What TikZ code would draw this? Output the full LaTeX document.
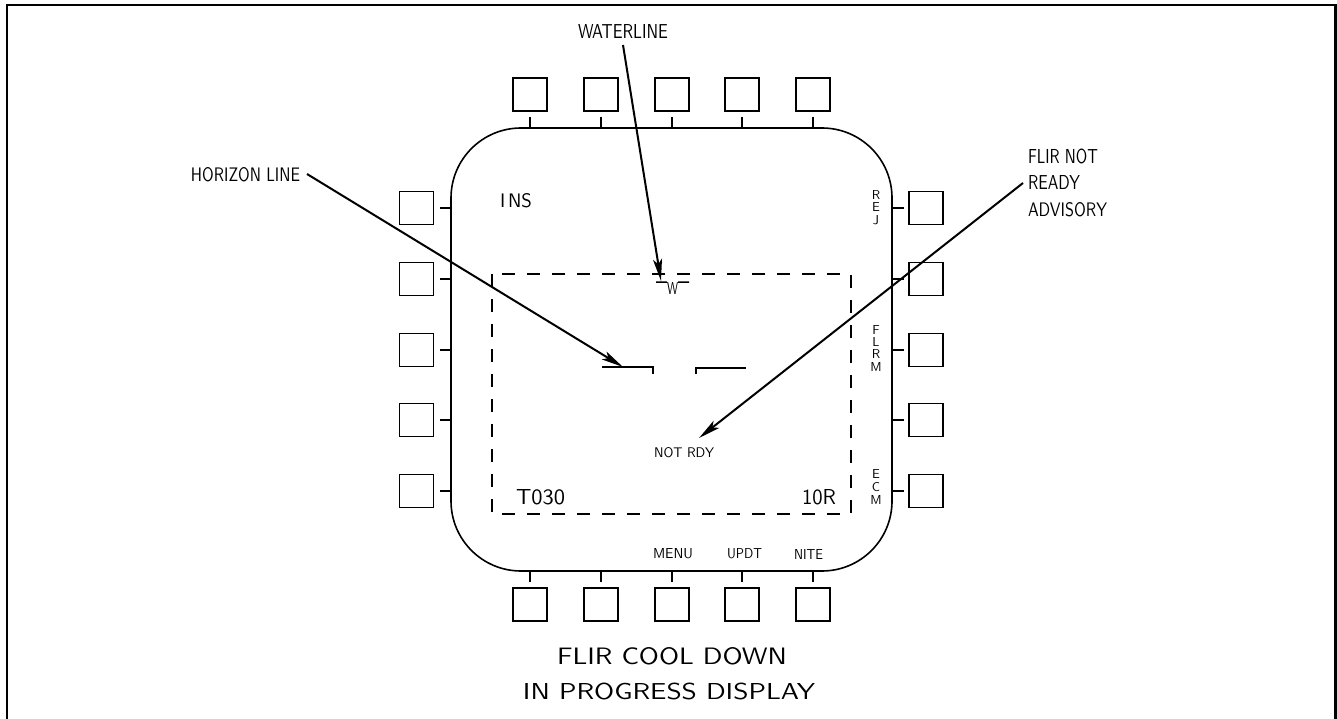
\documentclass[tikz,border=0pt]{standalone}
\usepackage{graphicx}
\usetikzlibrary{arrows.meta}
\newcommand{\lbl}[3]{\resizebox{#1pt}{#2pt}{\sffamily #3}}
\newcommand{\vlt}[1]{\resizebox{!}{9pt}{\sffamily #1}}
\begin{document}
\begin{tikzpicture}[x=1pt,y=-1pt,line width=1.5pt,
  btn/.style={draw,minimum width=34pt,minimum height=33pt,inner sep=0pt,line width=1.6pt},
  txt/.style={inner sep=0pt,outer sep=0pt},
  ptr/.style={line width=2pt,-{Stealth[length=22pt,width=9pt,inset=5pt]}},
  dashbox/.style={line width=1.5pt,dash pattern=on 13pt off 12pt}]
\useasboundingbox (0,0) rectangle (1337,719);
% frame
\draw[line width=2.6pt] (7,719) -- (7,5) -- (1335.5,5) -- (1335.5,719);
% display outline
\draw[line width=1.6pt,rounded corners=70pt] (451,128) rectangle (892,571);
% dashed field
\draw[dashbox] (492,274) rectangle (851,514);
% top and bottom buttons
\foreach \i/\x in {1/530,2/601,3/672,4/742,5/813}{
  \node[btn] (t\i) at (\x,94.5) {};
  \draw (t\i.south) ++(0,5) -- (t\i.south |- 0,128);
  \node[btn] (b\i) at (\x,604.5) {};
  \draw (b\i.north) ++(0,-5) -- (b\i.north |- 0,571);
}
% left and right buttons
\foreach \i/\y in {1/208,2/279,3/350,4/420,5/491}{
  \node[btn] (l\i) at (416.5,\y) {};
  \draw (l\i.east) ++(6,0) -- (l\i.east -| 451,0);
  \node[btn] (r\i) at (926,\y) {};
  \draw (r\i.west) ++(-4,0) -- (r\i.west -| 892,0);
}
% waterline symbol
\node[txt] (w) at (672.5,288) {\lbl{11}{12}{W}};
\coordinate (wl1) at (656,282);
\coordinate (wl2) at (689,282);
\draw (wl1) -- (w.north west);
\draw (w.north east) -- (wl2);
% horizon line symbol
\coordinate (h1) at (602,367);
\coordinate (h2) at (653,374);
\coordinate (h3) at (696,374);
\coordinate (h4) at (746,368);
\draw (h1) -- (h1 -| h2) -- (h2);
\draw (h3) -- (h3 |- h4) -- (h4);
% labels
\node[txt] (wl) at (623,32) {\lbl{90}{14}{WATERLINE}};
\node[txt] (hl) at (245.5,175) {\lbl{109}{14}{HORIZON LINE}};
\node[txt,anchor=west] (fl1) at (1028,156.5) {\lbl{70}{14.5}{FLIR NOT}};
\node[txt,anchor=west] (fl2) at (1028,183) {\lbl{52}{14}{READY}};
\node[txt,anchor=west] (fl3) at (1028,210) {\lbl{79}{14}{ADVISORY}};
\node[txt] (ins) at (516,201) {\lbl{32}{14}{I\kern0.15em NS}};
\node[txt] (nr) at (684,453) {\lbl{60}{10}{NOT RDY}};
\node[txt] (menu) at (673,554) {\lbl{40}{10}{MENU}};
\node[txt] (updt) at (744.5,554) {\lbl{35}{10}{UPDT}};
\node[txt] (nite) at (808.5,554) {\lbl{29}{10}{NITE}};
\node[txt] (t030) at (540.5,497.5) {\lbl{49}{15}{T030}};
\node[txt] (ten) at (819,497.5) {\lbl{34}{15}{10R}};
\node[txt] (ti1) at (672,656.5) {\lbl{230}{17}{FLIR COOL DOWN}};
\node[txt] (ti2) at (669,691) {\lbl{292}{16.5}{IN PROGRESS DISPLAY}};
% vertical labels
\foreach \c/\y/\n in {R/195/r1,E/207.5/r2,J/220.5/r3,F/330/f1,L/342/f2,R/354/f3,M/367/f4,E/474/e1,C/487/e2,M/499.5/e3}{
  \node[txt] (\n) at (876,\y) {\vlt{\c}};
}
% pointers
\coordinate (wtip) at (661,281);
\coordinate (htip) at (623,367);
\coordinate (ftip) at (699,438);
\draw[ptr] ([yshift=-6pt]wl.south) -- (wtip);
\draw[ptr] ([xshift=7pt,yshift=1pt]hl.east) -- (htip);
\draw[ptr] ([xshift=-5pt]fl2.west) -- (ftip);
\end{tikzpicture}
\end{document}
